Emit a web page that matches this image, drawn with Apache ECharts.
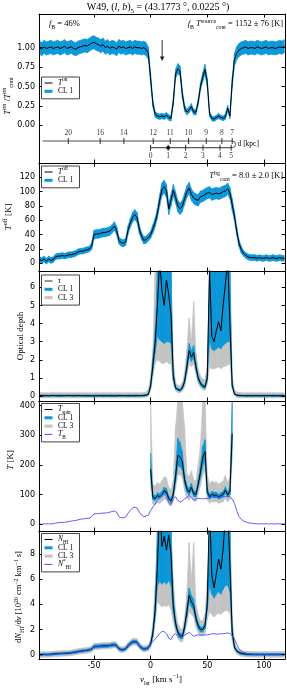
<!DOCTYPE html>
<html><head><meta charset="utf-8">
<script src="https://cdn.jsdelivr.net/npm/echarts@6/dist/echarts.min.js"></script>
<style>html,body{margin:0;padding:0;background:#fff}#c{width:287px;height:688px}</style>
</head><body><div id="c"></div>
<script>
// ---------------- DATA ----------------
// velocity channels (km/s): -98 ... 118, step 2
const vStart = -98, vStep = 2, nChan = 109;
const vel = []; for (let i = 0; i < nChan; i++) vel.push(vStart + vStep * i);

// Panel 1: T_on / T_on_cont and CL1 half-width
const ton = [1.00,0.98,1.01,0.99,
 1.00,1.01,0.99,1.00,1.01, 0.99,1.00,1.02,0.99,1.00, 1.01,0.99,0.98,1.00,1.01,
 1.02,1.03,1.02,1.04,1.06, 1.07,1.05,1.04,1.02,1.04, 1.00,1.02,0.99,1.01,1.00,
 0.98,1.02,1.00,1.01,0.99, 1.00,1.01,0.99,1.01,1.00, 1.00,0.99,1.00,0.98,0.93,
 0.60,0.28,0.14,0.12,0.11, 0.12,0.11,0.13,0.10,0.09, 0.30,0.66,0.73,0.70,0.40,
 0.22,0.17,0.20,0.24,0.17, 0.17,0.30,0.50,0.62,0.72, 0.55,0.15,0.09,0.08,0.10,
 0.12,0.10,0.09,0.11,0.22, 0.12,0.55,0.85,0.93,0.97, 0.99,1.00,1.01,0.99,1.00,
 1.00,0.99,1.01,1.00,0.99, 1.00,1.01,0.99,1.00,1.00, 0.99,1.00,1.01,1.00,1.02];
const tonErr = [.085,.085,.085,.085,
 .085,.085,.085,.085,.085, .085,.085,.085,.085,.085, .085,.085,.085,.085,.085,
 .085,.085,.085,.085,.085, .085,.085,.085,.085,.085, .085,.085,.085,.085,.085,
 .085,.085,.085,.085,.085, .085,.085,.085,.085,.085, .085,.085,.085,.085,.08,
 .06,.045,.035,.035,.035, .035,.035,.035,.035,.035, .045,.06,.065,.065,.05,
 .04,.035,.04,.04,.035, .035,.04,.05,.06,.065, .055,.035,.03,.03,.03,
 .035,.03,.03,.035,.04, .035,.06,.08,.085,.085, .085,.085,.085,.085,.085,
 .085,.085,.085,.085,.085, .085,.085,.085,.085,.085, .085,.085,.085,.085,.085];

// Panel 2: T_off [K] and CL1 half-width
const toff = [5,4,6,3,
 6,4,5,9,10, 10,11,10,11,12, 12,13,14,16,17,
 17,18,19,20,24, 40,41,41,42,43, 43,44,45,48,52,
 46,32,29,28,30, 46,56,64,68,64, 48,38,32,33,36,
 40,48,57,70,88, 103,107,101,76,88, 102,92,80,76,80,
 90,100,105,96,91, 89,88,93,94,96, 98,99,96,97,98,
 97,98,100,101,104, 98,82,66,45,28, 19,14,11,9,8,
 8,8,7,8,7, 7,8,7,7,8, 7,7,8,7,7];
const toffErr = [4,4,4,4,
 4,4,4,4,4, 4,4,4,4,4, 4,4,4,4,4,
 4,4,4,4,5, 6,6,6,6,6, 6,6,6,6,6,
 6,5,5,5,5, 6,6,7,7,7, 6,5,5,5,5,
 5,6,6,7,8, 9,9,9,8,8, 8,8,8,8,8,
 8,8,8,8,8, 8,8,8,8,8, 8,8,8,8,8,
 8,8,8,8,8, 8,8,7,6,5, 5,4,4,4,4,
 4,4,4,4,4, 4,4,4,4,4, 4,4,4,4,4];

// Panel 3: optical depth tau, CL1 and CL3 bounds
const tau = [0.02,0.03,0.01,0.02,
 0.01,0.02,0.03,0.02,0.01, 0.02,0.01,0.02,0.02,0.03, 0.02,0.01,0.02,0.03,0.02,
 0.02,0.01,0.02,0.01,0.01, 0.00,0.01,0.02,0.02,0.01, 0.02,0.01,0.02,0.01,0.01,
 0.01,0.03,0.02,0.02,0.01, 0.02,0.01,0.02,0.01,0.02, 0.02,0.02,0.03,0.05,0.10,
 0.55,1.7,2.9,5.0,7.5, 5.8,5.0,6.4,5.6,4.5, 1.1,0.45,0.36,0.31,0.45,
 0.8,1.6,2.5,2.15,2.4, 1.6,1.0,0.7,0.55,0.5, 1.0,7.0,3.3,3.0,3.6,
 4.1,3.6,5.0,6.2,7.5, 4.0,0.6,0.12,0.05,0.03, 0.02,0.02,0.01,0.02,0.02,
 0.01,0.02,0.02,0.01,0.02, 0.02,0.01,0.02,0.02,0.01, 0.02,0.02,0.01,0.02,0.02];
const tauCl1Lo = [-.02,-.02,-.02,-.02,
 -.02,-.02,-.02,-.02,-.02, -.02,-.02,-.02,-.02,-.02, -.02,-.02,-.02,-.02,-.02,
 -.02,-.02,-.02,-.02,-.02, -.02,-.02,-.02,-.02,-.02, -.02,-.02,-.02,-.02,-.02,
 -.02,-.02,-.02,-.02,-.02, -.02,-.02,-.02,-.02,-.02, -.02,-.02,-.01,0.01,0.05,
 0.45,1.4,2.4,3.3,3.1, 3.0,2.9,3.0,3.0,2.9, 0.9,0.38,0.30,0.26,0.38,
 0.68,1.4,2.2,1.9,2.1, 1.4,0.85,0.6,0.46,0.42, 0.85,3.0,2.6,2.5,2.6,
 2.7,2.6,2.8,2.9,3.0, 3.0,0.5,0.08,0.01,-.01, -.02,-.02,-.02,-.02,-.02,
 -.02,-.02,-.02,-.02,-.02, -.02,-.02,-.02,-.02,-.02, -.02,-.02,-.02,-.02,-.02];
const tauCl1Hi = [.06,.06,.06,.06,
 .06,.06,.06,.06,.06, .06,.06,.06,.06,.06, .06,.06,.06,.06,.06,
 .06,.06,.06,.06,.06, .06,.06,.06,.06,.06, .06,.06,.06,.06,.06,
 .06,.06,.06,.06,.06, .06,.06,.06,.06,.06, .06,.06,.07,.09,.15,
 0.7,2.1,3.6,99,99, 99,99,99,99,99, 1.4,0.55,0.43,0.37,0.54,
 0.95,1.9,2.9,2.5,2.8, 1.85,1.15,0.82,0.65,0.6, 1.2,99,99,99,99,
 99,99,99,99,99, 99,0.75,0.17,0.09,0.07, .06,.06,.06,.06,.06,
 .06,.06,.06,.06,.06, .06,.06,.06,.06,.06, .06,.06,.06,.06,.06];
const tauCl3Lo = [-.1,-.1,-.1,-.1,
 -.1,-.1,-.1,-.1,-.1, -.1,-.1,-.1,-.1,-.1, -.1,-.1,-.1,-.1,-.1,
 -.1,-.1,-.1,-.1,-.1, -.1,-.1,-.1,-.1,-.1, -.1,-.1,-.1,-.1,-.1,
 -.1,-.1,-.1,-.1,-.1, -.1,-.1,-.1,-.1,-.1, -.1,-.1,-.09,-.06,-.01,
 0.3,1.1,1.8,2.0,1.9, 1.8,1.8,1.9,1.8,1.8, 0.65,0.28,0.2,0.17,0.28,
 0.5,1.15,1.8,1.6,1.8, 1.2,0.7,0.45,0.35,0.3, 0.65,1.6,1.5,1.5,1.55,
 1.6,1.5,1.6,1.65,1.7, 1.8,0.35,0.0,-.07,-.09, -.1,-.1,-.1,-.1,-.1,
 -.1,-.1,-.1,-.1,-.1, -.1,-.1,-.1,-.1,-.1, -.1,-.1,-.1,-.1,-.1];
const tauCl3Hi = [.18,.18,.18,.18,
 .18,.18,.18,.18,.18, .18,.18,.18,.18,.18, .18,.18,.18,.18,.18,
 .18,.18,.18,.18,.18, .18,.18,.18,.18,.18, .18,.18,.18,.18,.18,
 .18,.18,.18,.18,.18, .18,.18,.18,.18,.18, .18,.18,.2,.24,.35,
 1.1,2.6,99,99,99, 99,99,99,99,99, 2.0,0.75,0.6,0.55,0.75,
 1.3,2.6,4.3,3.0,5.2, 2.4,1.5,1.1,0.95,0.9, 1.7,99,99,99,99,
 99,99,99,99,99, 99,1.1,0.35,0.24,0.2, .18,.18,.18,.18,.18,
 .18,.18,.18,.18,.18, .18,.18,.18,.18,.18, .18,.18,.18,.18,.18];

// Panel 4: spin temperature (defined for v = 0..72 km/s), bounds, and T_B
const spinVelStart = 0;
const tspin =    [185,90,86,96,92, 100,112,108,86,78, 100,160,232,228,210, 150,118,108,124,102, 100,135,175,225,245, 110,92,100,97,98, 92,96,100,114,98, 110,305];
const spinCl1Lo = [160,82,79,88,85, 92,102,99,79,72, 90,140,195,195,182, 135,107,98,112,93, 91,122,155,195,212, 100,84,91,89,90, 84,88,91,104,90, 100,260];
const spinCl1Hi = [240,100,95,106,102, 110,124,120,95,86, 112,185,290,275,245, 168,130,120,138,113, 110,150,200,262,285, 122,101,110,107,108, 101,106,110,126,108, 122,999];
const spinCl3Lo = [125,68,65,72,70, 76,84,82,66,60, 76,120,165,168,155, 112,88,80,92,78, 76,102,130,165,180, 82,70,76,74,75, 70,73,76,86,75, 84,220];
const spinCl3Hi = [999,135,128,140,135, 145,160,155,125,115, 150,330,999,999,999, 330,170,160,180,150, 145,200,270,999,999, 165,135,145,140,142, 135,140,145,165,140, 160,999];
const tb = [0,-1,1,0,
 1,0,1,3,4, 5,5,6,7,8, 10,11,12,14,16,
 17,18,19,20,25, 34,35,35,36,37, 37,38,40,42,44,
 40,25,21,21,24, 36,46,54,57,54, 40,30,25,27,30,
 45,58,68,80,92, 102,100,92,72,66, 85,92,80,74,78,
 85,90,97,90,80, 84,87,86,85,86, 87,88,91,92,90,
 90,91,92,93,95, 92,84,70,45,25, 16,10,7,4,3,
 2,1,1,0,1, 0,1,0,1,0, 0,1,0,0,1];

// Panel 5: dN_HI/dv [1e20 cm^-2 km^-1 s], bounds, optically thin N*_HI
const nhi = [0.02,0.00,0.03,0.01,
 0.02,0.03,0.05,0.07,0.08, 0.09,0.10,0.11,0.12,0.13, 0.15,0.18,0.21,0.25,0.28,
 0.30,0.33,0.35,0.38,0.45, 0.64,0.66,0.66,0.68,0.70, 0.70,0.71,0.73,0.76,0.80,
 0.72,0.48,0.40,0.40,0.48, 0.70,0.88,1.00,1.04,0.98, 0.72,0.55,0.45,0.48,0.55,
 0.85,1.7,3.5,7.0,12, 8.6,9.4,8.3,9.5,8.0, 3.9,2.5,1.8,1.5,1.45,
 2.2,3.4,4.7,4.2,3.9, 2.9,2.3,2.0,2.0,2.3, 4.0,12,6.3,5.3,6.4,
 7.6,6.8,8.4,11,12, 7.0,1.8,0.6,0.3,0.18, 0.10,0.07,0.05,0.04,0.03,
 0.03,0.02,0.03,0.02,0.02, 0.02,0.03,0.02,0.02,0.03, 0.02,0.02,0.03,0.02,0.02];
const nCl1Lo = [-0.06,-0.08,-0.05,-0.07,
 -0.06,-0.05,-0.03,-0.01,0.0, 0.01,0.02,0.03,0.04,0.05, 0.06,0.09,0.12,0.16,0.19,
 0.21,0.24,0.26,0.29,0.35, 0.52,0.54,0.54,0.56,0.58, 0.58,0.59,0.61,0.64,0.68,
 0.60,0.38,0.30,0.30,0.38, 0.58,0.76,0.88,0.92,0.86, 0.60,0.44,0.35,0.38,0.44,
 0.72,1.45,3.0,5.5,5.8, 5.6,5.8,5.6,5.9,5.5, 3.3,2.2,1.6,1.3,1.25,
 1.95,3.0,4.2,3.8,3.5, 2.6,2.05,1.8,1.8,2.05, 3.5,5.5,4.8,4.5,4.8,
 5.0,4.8,5.2,5.5,5.5, 5.0,1.5,0.5,0.22,0.1, 0.02,-0.01,-0.03,-0.04,-0.05,
 -0.06,-0.06,-0.06,-0.06,-0.06, -0.06,-0.06,-0.06,-0.06,-0.06, -0.06,-0.06,-0.06,-0.06,-0.06];
const nCl1Hi = [0.10,0.08,0.11,0.09,
 0.10,0.11,0.13,0.15,0.16, 0.17,0.18,0.19,0.20,0.21, 0.24,0.27,0.30,0.34,0.37,
 0.39,0.42,0.44,0.47,0.55, 0.76,0.78,0.78,0.80,0.82, 0.82,0.83,0.85,0.88,0.92,
 0.84,0.58,0.50,0.50,0.58, 0.82,1.00,1.12,1.16,1.10, 0.84,0.66,0.55,0.58,0.66,
 1.0,2.0,4.2,99,99, 99,99,99,99,99, 4.6,2.8,2.0,1.7,1.65,
 2.45,3.8,5.3,4.7,4.4, 3.2,2.55,2.2,2.2,2.55, 4.6,99,99,99,99,
 99,99,99,99,99, 99,2.2,0.72,0.38,0.26, 0.18,0.15,0.13,0.12,0.11,
 0.10,0.10,0.10,0.10,0.10, 0.10,0.10,0.10,0.10,0.10, 0.10,0.10,0.10,0.10,0.10];
const nCl3Lo = [-0.20,-0.22,-0.19,-0.21,
 -0.20,-0.19,-0.17,-0.15,-0.14, -0.13,-0.12,-0.11,-0.10,-0.09, -0.07,-0.04,-0.01,0.03,0.06,
 0.08,0.10,0.12,0.15,0.20, 0.40,0.42,0.42,0.44,0.46, 0.46,0.47,0.49,0.52,0.55,
 0.48,0.25,0.17,0.17,0.25, 0.45,0.62,0.74,0.78,0.72, 0.47,0.32,0.22,0.25,0.32,
 0.55,1.2,2.5,4.2,4.0, 3.8,3.9,3.8,4.0,3.6, 2.6,1.8,1.3,1.05,1.0,
 1.6,2.5,3.4,3.2,3.0, 2.2,1.75,1.5,1.5,1.7, 2.8,3.4,3.2,3.0,3.2,
 3.3,3.2,3.4,3.5,3.5, 3.3,1.1,0.3,0.05,-0.05, -0.12,-0.15,-0.17,-0.18,-0.19,
 -0.20,-0.20,-0.20,-0.20,-0.20, -0.20,-0.20,-0.20,-0.20,-0.20, -0.20,-0.20,-0.20,-0.20,-0.20];
const nCl3Hi = [0.24,0.22,0.25,0.23,
 0.24,0.25,0.27,0.29,0.30, 0.31,0.32,0.33,0.34,0.35, 0.38,0.41,0.44,0.48,0.51,
 0.53,0.56,0.58,0.61,0.70, 0.90,0.92,0.92,0.94,0.96, 0.96,0.97,0.99,1.02,1.06,
 0.98,0.72,0.64,0.64,0.72, 0.96,1.15,1.28,1.32,1.26, 0.98,0.80,0.70,0.72,0.80,
 1.2,2.5,5.5,99,99, 99,99,99,99,99, 6.0,3.6,2.5,2.1,2.0,
 3.0,5.0,8.9,6.0,8.9, 4.0,3.2,2.7,2.7,3.2, 6.0,99,99,99,99,
 99,99,99,99,99, 99,3.0,1.0,0.55,0.42, 0.33,0.29,0.27,0.26,0.25,
 0.24,0.24,0.24,0.24,0.24, 0.24,0.24,0.24,0.24,0.24, 0.24,0.24,0.24,0.24,0.24];
const nStar = [0.0,-0.02,0.02,0.0,
 0.02,0.0,0.02,0.05,0.07, 0.09,0.09,0.11,0.13,0.15, 0.18,0.20,0.22,0.25,0.29,
 0.31,0.33,0.35,0.36,0.46, 0.62,0.64,0.64,0.66,0.67, 0.67,0.69,0.73,0.76,0.80,
 0.73,0.46,0.38,0.38,0.44, 0.66,0.84,0.98,1.04,0.98, 0.73,0.55,0.46,0.49,0.55,
 0.82,1.06,1.24,1.46,1.67, 1.86,1.82,1.67,1.31,1.20, 1.55,1.67,1.46,1.35,1.42,
 1.55,1.64,1.77,1.64,1.46, 1.53,1.58,1.57,1.55,1.57, 1.58,1.60,1.66,1.67,1.64,
 1.64,1.66,1.67,1.69,1.73, 1.67,1.53,1.27,0.82,0.46, 0.29,0.18,0.13,0.07,0.05,
 0.03,0.02,0.0,0.02,0.01, 0.0,0.02,0.01,0.0,0.02, 0.01,0.0,0.02,0.01,0.0];

// Kinematic distance scale (top panel): far side and near side ticks
const farDist = [20,16,14,12,11,10,9,8,7];
const farVel  = [-72.7,-44.5,-23.6,2.3,17.3,33.5,49.1,62.9,72.0];
const nearDist = [0,1,2,3,4,5];
const nearVel  = [0,15.5,30.9,46.2,61.2,71.1];
const sourceDist = 1;           // marked distance (dot) in kpc
const sourceVel = 15.5;
const arrowVel = 10.2;          // velocity marked by arrow

// Tick labels
const xTicks  = [-50,0,50,100];
const yTicks1 = [0,0.25,0.5,0.75,1.0];
const yTicks2 = [0,20,40,60,80,100,120];
const yTicks3 = [0,1,2,3,4,5,6];
const yTicks4 = [0,100,200,300,400];
const yTicks5 = [0,2,4,6,8];

// ---------------- LAYOUT / STYLE ----------------
const SERIF = '"Liberation Serif","DejaVu Serif",serif';
const SANS = '"DejaVu Sans",sans-serif';
const BLUE = '#0a97d9', GREY = '#c3c3c3', TBCOL = '#4b4bff';
const X_MIN = -98.5, X_MAX = 118.6;
const panels = [
  {top:14,  height:149, min:-0.486, max:1.434, ticks:yTicks1, fmt:v=>Number(v).toFixed(2)},
  {top:163, height:108, min:-10.7,  max:140,   ticks:yTicks2, fmt:v=>String(v)},
  {top:271, height:130, min:-0.276, max:6.906, ticks:yTicks3, fmt:v=>String(v)},
  {top:401, height:130, min:-23.7,  max:416,   ticks:yTicks4, fmt:v=>String(v)},
  {top:531, height:128, min:-0.342, max:9.825, ticks:yTicks5, fmt:v=>String(v)}
];
const FAR_Y = -0.2026, NEAR_Y = -0.289, ARROW_TOP = 1.099, ARROW_BOT = 0.828;

function padSpin(arr){ return vel.map(v => (v >= spinVelStart && v <= spinVelStart + 2*(arr.length-1)) ? arr[(v - spinVelStart)/2] : null); }

function band(g, lo, hi, color, z){
  const P = panels[g]; const data = [];
  for (let i = 0; i < vel.length-1; i++){
    if (lo[i]==null || lo[i+1]==null || hi[i]==null || hi[i+1]==null) continue;
    data.push([vel[i], lo[i], hi[i], vel[i+1], lo[i+1], hi[i+1]]);
  }
  return {type:'custom', xAxisIndex:2*g, yAxisIndex:2*g, z, silent:true, clip:true, data,
    encode:{x:[0,3], y:[1,2,4,5]},
    renderItem:(params, api)=>{
      const c = v => Math.max(P.min, Math.min(P.max, v));
      const a = api.coord([api.value(0), c(api.value(1))]);
      const b = api.coord([api.value(0), c(api.value(2))]);
      const d = api.coord([api.value(3), c(api.value(5))]);
      const e = api.coord([api.value(3), c(api.value(4))]);
      return {type:'polygon', shape:{points:[a,b,d,e]}, style:{fill:color, stroke:color, lineWidth:0.6}};
    }};
}
function line(g, vals, color, width, z){
  return {type:'line', xAxisIndex:2*g, yAxisIndex:2*g, z, silent:true, symbol:'none', showSymbol:false,
    clip:true, connectNulls:false,
    data: vel.map((v,i)=>[v, vals[i]==null ? '-' : vals[i]]),
    lineStyle:{color, width}, itemStyle:{color}};
}
const minus = (a,b)=>a.map((v,i)=>v-b[i]);
const plus = (a,b)=>a.map((v,i)=>v+b[i]);

function rich(s){
  const lh = Math.round(s*1.45);
  const ss = (s*0.68).toFixed(1);
  return {
    n:{font:`${s}px ${SERIF}`, lineHeight:lh},
    i:{font:`italic ${s}px ${SERIF}`, lineHeight:lh},
    sp:{font:`${ss}px ${SERIF}`, verticalAlign:'top'},
    sb:{font:`${ss}px ${SERIF}`, verticalAlign:'bottom'}
  };
}
function txt(x, y, text, size, align, rot){
  return {type:'text', x, y, rotation: rot||0, z:100, silent:true,
    style:{text, x:0, y:0, rich:rich(size), font:`${size}px ${SERIF}`, fill:'#000',
      align: align||'left', verticalAlign:'middle', textAlign: align||'left', textVerticalAlign:'middle'}};
}
function legendBox(top, items){
  const els = []; const h = 6 + (items.length-1)*8.3 + 7.5;
  els.push({type:'rect', z:100, silent:true, shape:{x:41.5, y:top, width:38, height:h},
    style:{fill:'#fff', stroke:'#444', lineWidth:1}});
  items.forEach((it,k)=>{
    const y = top + 6 + k*8.3;
    els.push({type:'line', z:101, silent:true, shape:{x1:44.5, y1:y, x2:52.5, y2:y}, style:{stroke:it.c, lineWidth:it.w}});
    els.push(txt(58, y, it.t, 7.5, 'left'));
  });
  return els;
}

// ---------------- OPTION ----------------
const option = {animation:false, textStyle:{fontFamily:SANS}, grid:[], xAxis:[], yAxis:[], series:[], graphic:{elements:[]}};
panels.forEach((p,g)=>{
  option.grid.push({left:39, width:246, top:p.top, height:p.height, show:false, containLabel:false, outerBoundsMode:'none'});
  const xc = {type:'value', gridIndex:g, min:X_MIN, max:X_MAX, splitLine:{show:false}, z:10,
    axisLine:{show:true, onZero:false, lineStyle:{color:'#000', width:1}},
    axisTick:{show:true, inside:true, length:3.5, customValues:xTicks, lineStyle:{color:'#000', width:1}}};
  option.xAxis.push(Object.assign({}, xc, {position:'bottom',
    axisLabel:{show:g===4, customValues:xTicks, color:'#000', fontSize:8, fontFamily:SANS, margin:3}}));
  option.xAxis.push(Object.assign({}, xc, {position:'top', axisLabel:{show:false}}));
  const yc = {type:'value', gridIndex:g, min:p.min, max:p.max, splitLine:{show:false}, z:10,
    axisLine:{show:true, onZero:false, lineStyle:{color:'#000', width:1}},
    axisTick:{show:true, inside:true, length:3.5, customValues:p.ticks, lineStyle:{color:'#000', width:1}}};
  option.yAxis.push(Object.assign({}, yc, {position:'left',
    axisLabel:{show:true, customValues:p.ticks, formatter:p.fmt, color:'#000', fontSize:8, fontFamily:SANS, margin:4}}));
  option.yAxis.push(Object.assign({}, yc, {position:'right', axisLabel:{show:false}}));
});

const S = option.series;
// Panel 1
S.push(band(0, minus(ton,tonErr), plus(ton,tonErr), BLUE, 3));
S.push(line(0, ton, '#000', 1, 4));
// arrow marking a velocity (shaft + head drawn through the axes)
S.push({type:'custom', xAxisIndex:0, yAxisIndex:0, z:6, silent:true,
  data:[[arrowVel, ARROW_TOP, ARROW_BOT]],
  renderItem:(params, api)=>{
    const p1 = api.coord([api.value(0), api.value(1)]);
    const p2 = api.coord([api.value(0), api.value(2)]);
    return {type:'group', children:[
      {type:'line', shape:{x1:p1[0], y1:p1[1], x2:p2[0], y2:p2[1]-3}, style:{stroke:'#333', lineWidth:1}},
      {type:'polygon', shape:{points:[[p2[0]-2.2, p2[1]-4.5],[p2[0]+2.2, p2[1]-4.5],[p2[0], p2[1]]]}, style:{fill:'#1a1a3a'}}
    ]};
  }});
// distance scale
S.push({type:'line', xAxisIndex:0, yAxisIndex:0, z:4, silent:true, symbol:'none',
  data:[[-95.3, FAR_Y],[farVel[farVel.length-1], FAR_Y]], lineStyle:{color:'#8a8a8a', width:1.5}});
S.push({type:'line', xAxisIndex:0, yAxisIndex:0, z:4, silent:true, symbol:'none',
  data:[[nearVel[0], NEAR_Y],[farVel[farVel.length-1], NEAR_Y]], lineStyle:{color:'#333', width:1}});
S.push({type:'custom', xAxisIndex:0, yAxisIndex:0, z:4, silent:true,
  data:[[farVel[farVel.length-1], FAR_Y, NEAR_Y]],
  renderItem:(params, api)=>{
    const p1 = api.coord([api.value(0), api.value(1)]);
    const p2 = api.coord([api.value(0), api.value(2)]);
    const r = (p2[1]-p1[1])/2;
    return {type:'arc', shape:{cx:p1[0], cy:p1[1]+r, r, startAngle:-Math.PI/2, endAngle:Math.PI/2, clockwise:true},
      style:{stroke:'#555', fill:null, lineWidth:1}};
  }});
S.push({type:'scatter', xAxisIndex:0, yAxisIndex:0, z:5, silent:true, symbol:'rect', symbolSize:[1,6],
  itemStyle:{color:'#000'},
  data: farVel.map((v,i)=>({value:[v, FAR_Y], name:String(farDist[i])})),
  label:{show:true, position:'top', distance:1, formatter:'{b}', fontFamily:SERIF, fontSize:7.5, color:'#000'}});
S.push({type:'scatter', xAxisIndex:0, yAxisIndex:0, z:5, silent:true, symbol:'rect', symbolSize:[1,6],
  itemStyle:{color:'#000'},
  data: nearVel.map((v,i)=>({value:[v, NEAR_Y], name:String(nearDist[i])})),
  label:{show:true, position:'bottom', distance:1.5, formatter:'{b}', fontFamily:SERIF, fontSize:7.5, color:'#000'}});
S.push({type:'scatter', xAxisIndex:0, yAxisIndex:0, z:6, silent:true, symbol:'circle', symbolSize:4,
  itemStyle:{color:'#000'}, data:[[sourceVel, NEAR_Y]]});
// Panel 2
S.push(band(1, minus(toff,toffErr), plus(toff,toffErr), BLUE, 3));
S.push(line(1, toff, '#000', 1, 4));
// Panel 3
S.push(band(2, tauCl3Lo, tauCl3Hi, GREY, 2));
S.push(band(2, tauCl1Lo, tauCl1Hi, BLUE, 3));
S.push(line(2, tau, '#000', 1, 4));
// Panel 4
S.push(band(3, padSpin(spinCl3Lo), padSpin(spinCl3Hi), GREY, 2));
S.push(band(3, padSpin(spinCl1Lo), padSpin(spinCl1Hi), BLUE, 3));
S.push(line(3, padSpin(tspin), '#000', 1, 4));
S.push(line(3, tb, TBCOL, 0.9, 5));
// Panel 5
S.push(band(4, nCl3Lo, nCl3Hi, GREY, 2));
S.push(band(4, nCl1Lo, nCl1Hi, BLUE, 3));
S.push(line(4, nhi, '#000', 1, 4));
S.push(line(4, nStar, TBCOL, 0.9, 5));

// ---------------- TEXT / LEGENDS ----------------
const G = option.graphic.elements;
G.push(txt(158, 7.5, '{n|W49, (}{i|l, b}{n|)}{sb|5}{n| = (43.1773 °, 0.0225 °)}', 10, 'center'));
G.push(txt(49, 24, '{i|f}{sb|B}{n| = 46%}', 8.5, 'left'));
G.push(txt(283, 24, '{i|f}{sb|B}{i| T}{sp|source}{sb|cont}{n| = 1152 ± 76 [K]}', 8.5, 'right'));
G.push(txt(283, 176, '{i|T}{sp|bg}{sb|cont}{n| = 8.0 ± 2.0 [K]}', 8.5, 'right'));
G.push(txt(237.5, 144.3, '{n|d [kpc]}', 7.5, 'left'));
// y labels
G.push(txt(8, 96, '{i|T}{sp|on}{n| /}{i|T}{sp|on}{sb|cont}', 9, 'center', Math.PI/2));
G.push(txt(9, 217, '{i|T}{sp|off}{n| [K]}', 9, 'center', Math.PI/2));
G.push(txt(21, 336, '{n|Optical depth}', 9, 'center', Math.PI/2));
G.push(txt(11, 460, '{i|T}{n| [K]}', 9, 'center', Math.PI/2));
G.push(txt(19, 597, '{n|d}{i|N}{sb|HI}{n|/d}{i|v}{n| [10}{sp|20}{n| cm}{sp|−2}{n| km}{sp|−1}{n| s]}', 8.5, 'center', Math.PI/2));
// x label
G.push(txt(161, 680, '{i|v}{sb|lsr}{n| [km s}{sp|−1}{n|]}', 9, 'center'));
// legends
legendBox(77, [{t:'{i|T}{sp|on}', c:'#000', w:1}, {t:'{n|CL 1}', c:BLUE, w:3}]).forEach(e=>G.push(e));
legendBox(166, [{t:'{i|T}{sp|off}', c:'#000', w:1}, {t:'{n|CL 1}', c:BLUE, w:3}]).forEach(e=>G.push(e));
legendBox(275, [{t:'{i|τ}', c:'#333', w:1}, {t:'{n|CL 1}', c:BLUE, w:3}, {t:'{n|CL 3}', c:GREY, w:3}]).forEach(e=>G.push(e));
legendBox(403.5, [{t:'{i|T}{sb|spin}', c:'#000', w:1}, {t:'{n|CL 1}', c:BLUE, w:3}, {t:'{n|CL 3}', c:GREY, w:3}, {t:'{i|T}{sb|B}', c:TBCOL, w:1}]).forEach(e=>G.push(e));
legendBox(533.5, [{t:'{i|N}{sb|HI}', c:'#000', w:1}, {t:'{n|CL 1}', c:BLUE, w:3}, {t:'{n|CL 3}', c:GREY, w:3}, {t:'{i|N}{sp|*}{sb|HI}', c:TBCOL, w:1}]).forEach(e=>G.push(e));

const chart = echarts.init(document.getElementById('c'), null, {renderer:'canvas', width:287, height:688});
chart.setOption(option);
</script>
</body></html>
